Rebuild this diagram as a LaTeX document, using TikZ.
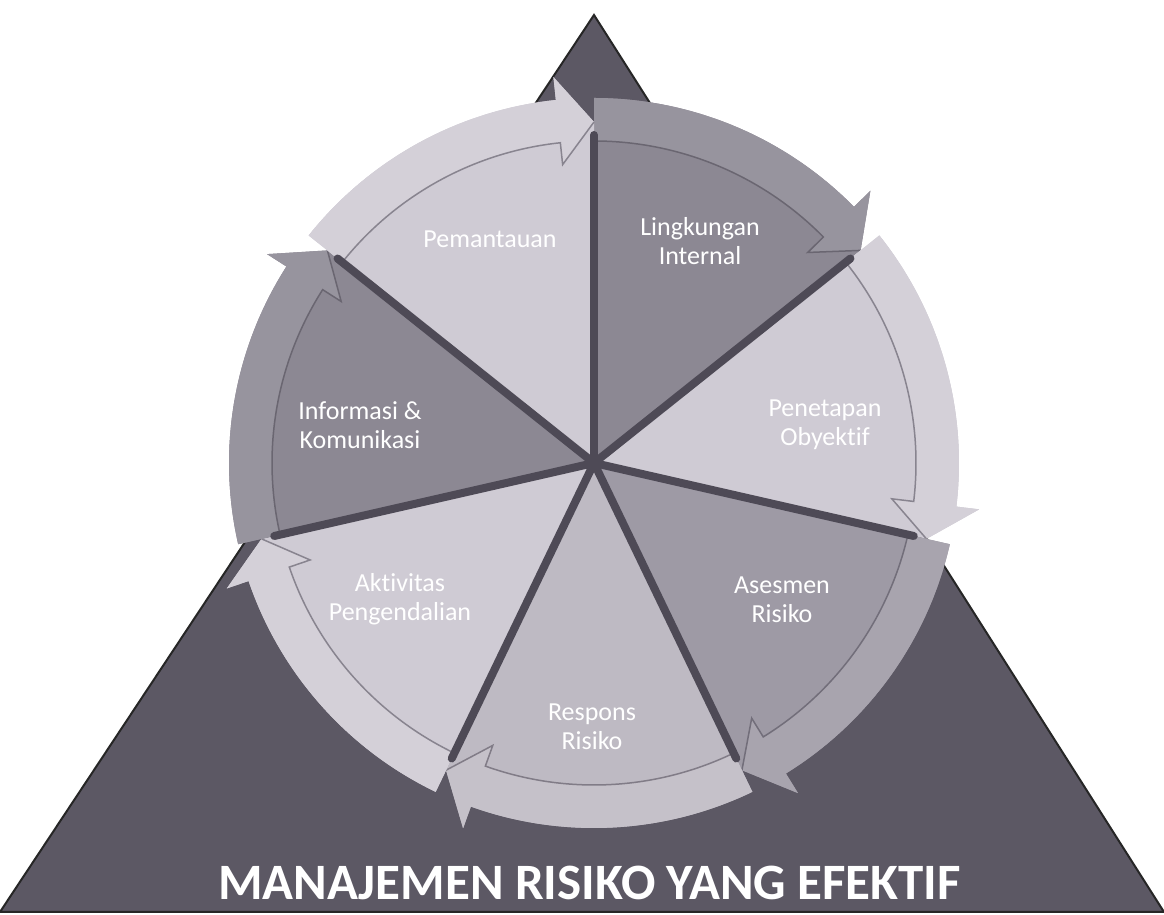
\documentclass[tikz,border=0pt]{standalone}
\usepackage{fontspec}
\setmainfont{Carlito}[Ligatures=NoCommon]
\usepackage{xcolor}
\usepackage{tikz}

\begin{document}
\begin{tikzpicture}[x=1pt,y=1pt,
    seglabel/.style={text=white, font=\fontsize{26}{29}\selectfont, align=center, inner sep=0pt}]
        % Define colors
        \definecolor{pyramid}{RGB}{92,88,100}
        \definecolor{spoke}{RGB}{78,74,86}
        \definecolor{segdark}{RGB}{140,136,147}
        \definecolor{segmid}{RGB}{158,154,165}
        \definecolor{segsoft}{RGB}{190,186,195}
        \definecolor{seglight}{RGB}{207,203,212}

        \useasboundingbox (0,0) rectangle (1164,915);

        % Triangle behind the wheel
        \fill[pyramid, draw=black!85, line width=2pt] (0,3) -- (1164,3) -- (594,900) -- cycle;

        % Wheel: seven segments, each with a rim arrow
        \coordinate (c) at (594,452);
        \foreach \a/\segcol in {90/segdark, 38.57/seglight, -12.86/segmid, -64.29/segsoft,
                                -115.71/seglight, -167.14/segdark, 141.43/seglight} {
                \pgfmathsetmacro{\b}{\a-51.43}
                \pgfmathsetmacro{\h}{\b+6}

                % Segment body with arrow head
                \fill[\segcol] (c) -- ([shift={(\a:365)}]c)
                    arc[start angle=\a, end angle=\h, radius=365]
                    -- ([shift={(\h:388)}]c) -- ([shift={(\b:341)}]c) -- cycle;

                % Rim band
                \fill[\segcol!90!white] ([shift={(\a:322)}]c)
                    arc[start angle=\a, end angle=\h, radius=322]
                    -- ([shift={(\h:300)}]c) -- ([shift={(\b:341)}]c) -- ([shift={(\h:388)}]c)
                    -- ([shift={(\h:365)}]c) arc[start angle=\h, end angle=\a, radius=365] -- cycle;
                \draw[spoke!55!\segcol, line width=1.5pt] ([shift={(\a:322)}]c)
                    arc[start angle=\a, end angle=\h, radius=322]
                    -- ([shift={(\h:300)}]c) -- ([shift={(\b:341)}]c);
            }

        % Dark spokes between the segments
        \foreach \a in {90, 38.57, -12.86, -64.29, -115.71, -167.14, 141.43} {
                \draw[spoke, line width=8pt, line cap=round] (c) -- ([shift={(\a:328)}]c);
            }

        % Segment labels
        \node[seglabel] (lingkungan) at (700,674) {Lingkungan\\Internal};
        \node[seglabel] (penetapan) at (825,490) {Penetapan\\Obyektif};
        \node[seglabel] (asesmen) at (782,315) {Asesmen\\Risiko};
        \node[seglabel] (respons) at (592,188) {Respons\\Risiko};
        \node[seglabel] (aktivitas) at (400,316) {Aktivitas\\Pengendalian};
        \node[seglabel] (informasi) at (360,490) {Informasi \&\\Komunikasi};
        \node[seglabel, anchor=base] (pemantauan) at (490,667) {Pemantauan};

        % Title on the base
        \node[anchor=base west, text=white, inner sep=0pt,
              font=\fontsize{51}{55}\selectfont\bfseries] (title) at (218,15) {MANAJEMEN RISIKO YANG EFEKTIF};

    \end{tikzpicture}
\end{document}
